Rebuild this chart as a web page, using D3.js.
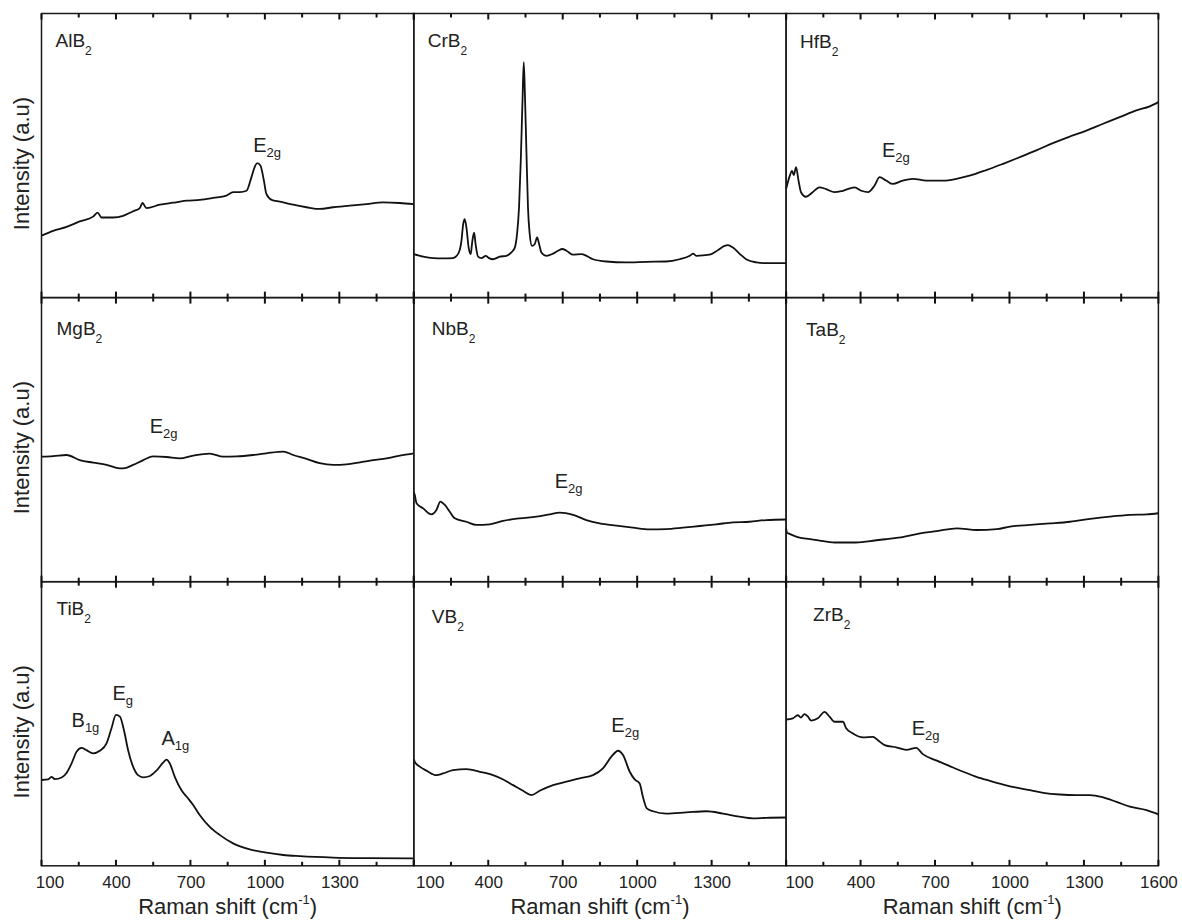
<!DOCTYPE html>
<meta charset="utf-8">
<style>
body { margin: 0; background: #fff; }
svg text { font-family: "Liberation Sans", Arial, sans-serif; fill: #222; }
</style>
<body>
<div id="chart"></div>
<script src="https://cdnjs.cloudflare.com/ajax/libs/d3/7.8.5/d3.min.js"></script>
<script>

// Spectra: [Raman shift (cm-1), intensity (a.u., 0-100 per panel)]
var AlB2 = [[100,21.8],[147,23.5],[201,24.9],[254,26.8],[308,28.5],[326,29.9],[342,28.2],[389,28.2],
  [429,28.8],[469,30.4],[496,31.5],[507,33.3],[523,31.5],[577,32.7],[630,33.4],[684,34.1],[738,34.4],
  [792,35.1],[845,35.9],[872,37.1],[899,37.1],[926,37.6],[946,42.4],[960,46.2],[969,47.3],[982,46.5],
  [996,41.2],[1006,36.5],[1027,34.4],[1060,33.8],[1114,32.7],[1168,31.8],[1221,31.2],[1275,31.8],
  [1342,32.4],[1409,32.9],[1476,33.5],[1543,33.3],[1600,32.9]];

var CrB2 = [[100,15.3],[138,14.4],[178,13.9],[218,13.8],[258,13.9],[278,15.3],[292,20],[299,25.9],
  [305,27.6],[312,24.7],[321,17.6],[329,15.3],[336,20],[343,22.9],[349,18.8],[359,14.4],[372,13.9],
  [390,14.7],[403,13.9],[419,13.5],[446,14.4],[473,14.7],[493,15.9],[507,17.6],[516,22.4],[524,31.8],
  [531,48.2],[538,69.4],[543,82.9],[548,70.6],[554,50.6],[560,31.8],[567,22.4],[576,18.2],[587,18.8],
  [597,21.2],[605,18.8],[614,15.9],[634,14.7],[661,15.5],[681,16.5],[699,17.1],[715,16.5],[741,15.1],
  [775,15.3],[796,14.7],[822,13.5],[876,12.7],[956,12.4],[1037,12.6],[1117,12.7],[1171,13.5],
  [1212,14.7],[1225,15.5],[1238,14.7],[1292,15.1],[1325,16.7],[1352,18.2],[1365,18.5],[1386,17.6],
  [1412,15.5],[1439,13.5],[1480,12.4],[1520,12.1],[1600,12.1]];

var HfB2 = [[100,38.2],[113,42.4],[124,44.6],[131,43.1],[140,45.9],[150,41.2],[160,37.1],[180,35.5],
  [207,37.1],[234,38.8],[261,38.2],[295,37.1],[329,37.6],[376,38.8],[403,37.6],[430,37.1],[456,39.4],
  [477,42.4],[503,41.2],[530,40],[570,41.2],[611,41.8],[665,41.2],[732,41.2],[786,41.8],[839,42.9],
  [907,44.9],[974,47.1],[1041,49.4],[1108,51.8],[1175,54.4],[1243,56.7],[1310,58.8],[1377,61.2],
  [1444,63.5],[1511,65.9],[1565,67.3],[1600,68.8]];

var MgB2 = [[100,44.0],[147,44.2],[201,44.6],[254,42.8],[308,41.9],[362,41.1],[402,40.1],[429,39.9],
  [469,41.1],[510,42.8],[550,44.1],[604,43.9],[657,43.4],[711,44.4],[778,45.1],[832,44.0],[886,44.1],
  [953,44.6],[1006,45.2],[1074,45.8],[1114,44.6],[1168,43.2],[1221,41.7],[1275,41.1],[1329,41.3],
  [1383,42.0],[1436,42.8],[1490,43.4],[1544,44.4],[1600,45.2]];

var NbB2 = [[100,31.5],[104,30.5],[111,27.6],[138,25.8],[171,23.7],[191,25.2],[207,28.2],[225,27],
  [245,24.6],[265,22.3],[312,21.1],[352,20],[406,20.2],[460,21.4],[527,22.3],[594,22.9],[648,23.7],
  [688,24.3],[742,23.5],[795,21.7],[849,20.5],[916,19.7],[983,19],[1050,18.4],[1117,18.5],[1184,19],
  [1252,19.6],[1319,20.2],[1386,20.9],[1453,21.1],[1520,21.7],[1600,21.9]];

var TaB2 = [[100,18.8],[104,17.2],[109,17],[143,15.8],[197,15],[250,14.3],[304,13.8],[371,13.8],
  [438,14.3],[505,15],[573,15.8],[640,17],[707,17.8],[788,18.8],[868,18.2],[949,18.5],[1002,19.4],
  [1083,20],[1163,20.5],[1244,21.1],[1325,22.1],[1405,22.9],[1486,23.5],[1553,23.7],[1600,24.1]];

var TiB2 = [[100,30.2],[127,30.4],[140,31.3],[154,30.5],[181,31.1],[201,32.7],[221,36],[241,40.1],
  [261,41.5],[281,40.7],[308,39.6],[335,40.5],[362,43.1],[382,48.4],[400,53.1],[416,52.5],[432,47.8],
  [449,40.7],[469,34.9],[489,31.9],[510,31.1],[537,31.6],[563,33.5],[590,36.3],[604,37.4],[617,36],
  [637,31.3],[664,26.6],[691,23.7],[711,21.4],[738,17.8],[778,13.7],[819,10.8],[872,7.9],[939,5.8],
  [1007,4.6],[1074,3.8],[1141,3.4],[1275,2.9],[1409,2.7],[1600,2.6]];

var VB2 = [[100,37.5],[104,36.6],[124,34.9],[151,33.5],[191,31.9],[218,32.5],[258,33.7],[312,34],
  [366,33.1],[419,31.9],[460,30.4],[500,28.4],[540,26.4],[574,24.9],[607,26.4],[661,28.4],[715,29.6],
  [768,30.8],[822,31.9],[862,34.3],[896,38.4],[923,40.5],[943,39],[970,33.1],[990,30.4],[1010,29],
  [1023,24.3],[1039,20.2],[1064,19.2],[1117,18.4],[1198,18.8],[1279,19.2],[1345,18.4],[1412,17.3],
  [1466,16.7],[1520,16.9],[1600,17]];

var ZrB2 = [[100,51.5],[127,51.9],[147,53],[160,52.2],[174,53.4],[188,52.5],[201,51.1],[228,51.9],
  [255,54.2],[275,52.5],[295,50.7],[329,50.7],[342,48.4],[369,46.6],[410,45.2],[450,45.4],[470,44.2],
  [497,42.5],[544,41.7],[584,40.8],[624,41.5],[651,39.3],[705,37.1],[759,35.1],[814,33.1],[867,31.3],
  [921,29.9],[975,28.6],[1029,27.5],[1083,26.6],[1136,25.7],[1203,25.1],[1270,24.9],[1324,24.9],
  [1377,24.1],[1431,22.5],[1485,20.8],[1552,19.6],[1600,18.1]];

// Panel order (row by row) and compound names: [metal part, subscript]
var compounds = [["AlB","2"],["CrB","2"],["HfB","2"],["MgB","2"],["NbB","2"],["TaB","2"],["TiB","2"],["VB","2"],["ZrB","2"]];
var spectra = [AlB2, CrB2, HfB2, MgB2, NbB2, TaB2, TiB2, VB2, ZrB2];

// Mode labels: panel index, main letter, subscript, anchor shift, anchor intensity
var modeLabels = [
  [0, "E", "2g", 953, 51.2],
  [2, "E", "2g", 486, 49.4],
  [3, "E", "2g", 536, 52.3],
  [4, "E", "2g", 668, 32.9],
  [6, "B", "1g", 221, 48.9],
  [6, "E", "g", 386, 58.3],
  [6, "A", "1g", 583, 42.5],
  [7, "E", "2g", 896, 47.2],
  [8, "E", "2g", 606, 46.0]
];

var majorTicks = [100, 400, 700, 1000, 1300, 1600];
var minorTicks = [250, 550, 850, 1150, 1450];
var xTitle = "Raman shift (cm";
var yTitle = "Intensity (a.u)";

// layout
var width = 1182, height = 922;
var plotLeft = 41.5, plotTop = 13.5, cellW = 372.3, cellH = 284.1;
var nameOffset = [[14,33],[14,33],[14,34],[15,37],[18,37],[20,38],[15,33],[18,41],[27,39]];
var firstLabelShift = [8, 16, 13];

var svg = d3.select("#chart").append("svg")
  .attr("width", width).attr("height", height);

var x = d3.scaleLinear().domain([100, 1600]).range([0, cellW]);
var y = d3.scaleLinear().domain([0, 100]).range([cellH, 0]);

var line = d3.line()
  .x(function(d) { return x(d[0]); })
  .y(function(d) { return y(d[1]); })
  .curve(d3.curveMonotoneX);

spectra.forEach(function(data, i) {
  var col = i % 3, row = Math.floor(i / 3);
  var g = svg.append("g")
    .attr("transform", "translate(" + (plotLeft + col * cellW) + "," + (plotTop + row * cellH) + ")");

  g.append("path")
    .datum(data)
    .attr("d", line)
    .attr("fill", "none")
    .attr("stroke", "#111")
    .attr("stroke-width", 1.8)
    .attr("stroke-linejoin", "round");

  g.append("rect")
    .attr("width", cellW).attr("height", cellH)
    .attr("fill", "none")
    .attr("stroke", "#1a1a1a")
    .attr("stroke-width", 1.5);

  // tick labels on the bottom row only
  if (row === 2) {
    var ax = g.append("g")
      .attr("transform", "translate(0," + cellH + ")")
      .call(d3.axisBottom(x).tickValues(majorTicks).tickSize(0).tickPadding(10).tickFormat(d3.format("d")));
    ax.select(".domain").remove();
    ax.selectAll(".tick line").remove();
    ax.selectAll("text")
      .attr("font-size", 17)
      .attr("fill", "#222")
      .style("font-family", "'Liberation Sans', Arial, sans-serif");
    ax.selectAll(".tick").filter(function(d) { return d === 1600 && col < 2; }).remove();
    ax.selectAll(".tick").filter(function(d) { return d === 100; }).select("text")
      .attr("dx", firstLabelShift[col]);
  }

  var name = g.append("text")
    .attr("x", nameOffset[i][0]).attr("y", nameOffset[i][1])
    .attr("font-size", 19);
  name.append("tspan").text(compounds[i][0]);
  name.append("tspan").attr("font-size", 12).attr("dy", 8).text(compounds[i][1]);

  modeLabels.filter(function(m) { return m[0] === i; }).forEach(function(m) {
    var t = g.append("text")
      .attr("x", x(m[3])).attr("y", y(m[4]))
      .attr("font-size", 20);
    t.append("tspan").text(m[1]);
    t.append("tspan").attr("font-size", 13).attr("dy", 5).text(m[2]);
  });

  if (row === 2) {
    var xt = g.append("text")
      .attr("x", cellW / 2).attr("y", cellH + 48)
      .attr("text-anchor", "middle")
      .attr("font-size", 22);
    xt.append("tspan").text(xTitle);
    xt.append("tspan").attr("font-size", 13).attr("dy", -10).text("-1");
    xt.append("tspan").attr("dy", 10).text(")");
  }
});

// inward ticks on every panel edge, drawn last so they sit on top
var tickLayer = svg.append("g").attr("class", "tick-layer");
spectra.forEach(function(data, i) {
  var col = i % 3, row = Math.floor(i / 3);
  var tg = tickLayer.append("g")
    .attr("transform", "translate(" + (plotLeft + col * cellW) + "," + (plotTop + row * cellH) + ")");
  [[majorTicks, 6], [minorTicks, 4]].forEach(function(ts) {
    [0, cellH].forEach(function(edge) {
      var dir = edge === 0 ? 1 : -1;
      tg.selectAll(null)
        .data(ts[0])
        .enter()
        .append("line")
        .attr("x1", function(d) { return x(d); })
        .attr("x2", function(d) { return x(d); })
        .attr("y1", edge)
        .attr("y2", edge + dir * ts[1])
        .attr("stroke", "#111")
        .attr("stroke-width", 2);
    });
  });
});

// y axis titles, one per row
[0, 1, 2].forEach(function(row) {
  var cy = plotTop + row * cellH + cellH / 2 + 8;
  svg.append("text")
    .attr("transform", "translate(29," + cy + ") rotate(-90)")
    .attr("text-anchor", "middle")
    .attr("font-size", 22)
    .text(yTitle);
});

</script>
